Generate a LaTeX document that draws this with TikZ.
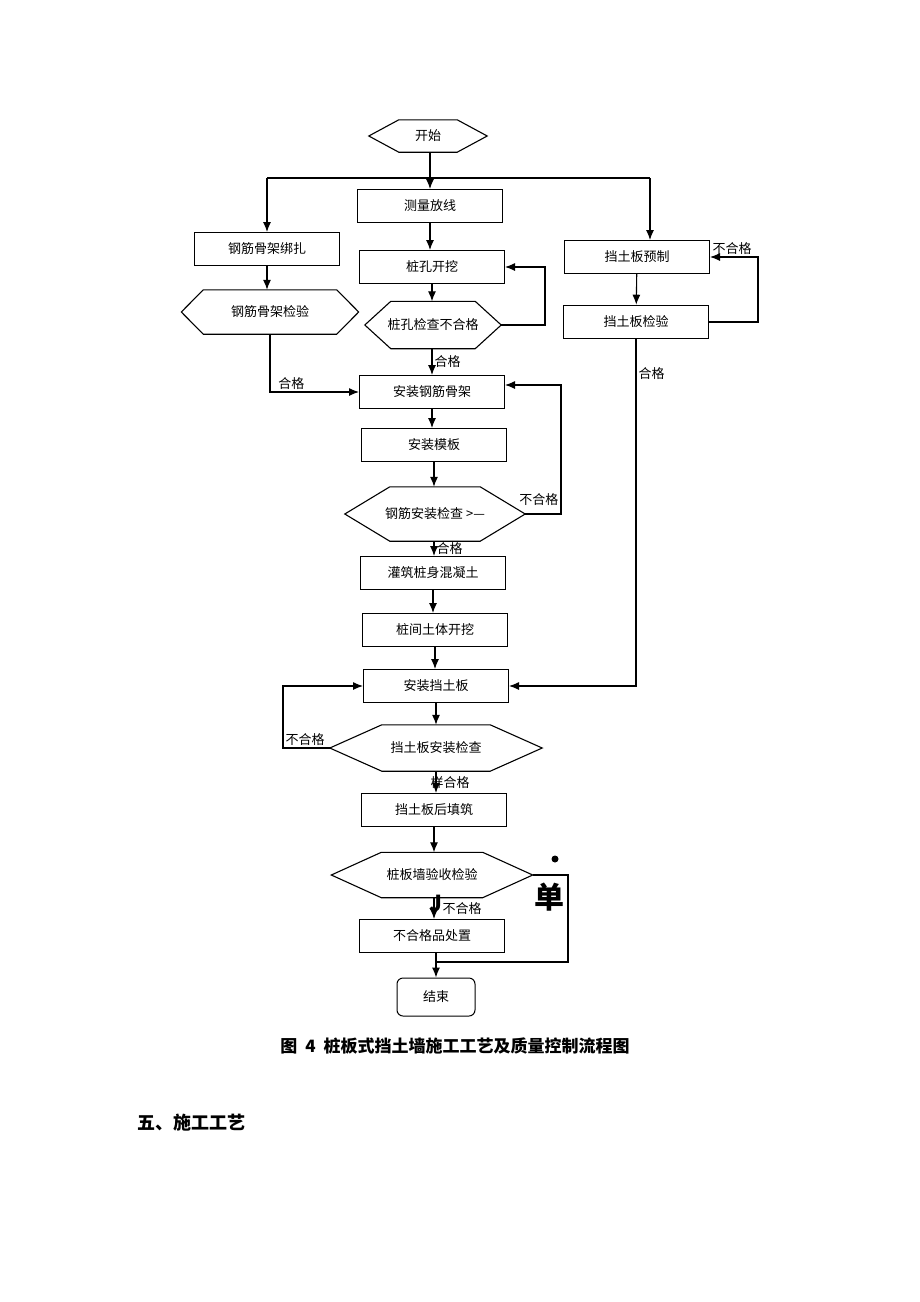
\documentclass[tikz,border=0pt]{standalone}
\usepackage{fontspec}
\setmainfont{Noto Sans CJK SC}
\usepackage{tikz}
\usetikzlibrary{positioning}
\usetikzlibrary{arrows,arrows.meta,shapes}
\usetikzlibrary{calc}
\tikzstyle{procbox}=[rectangle,draw,line width=1pt,minimum width=145pt,minimum height=33pt,inner sep=0pt,font=\fontsize{13}{15}\selectfont]
\tikzstyle{checkbox}=[rectangle,inner sep=0pt,font=\fontsize{13}{15}\selectfont]
\tikzstyle{flowlabel}=[font=\fontsize{13}{15}\selectfont,inner sep=2pt]
\tikzstyle{flow}=[-{Latex[length=10pt,width=8pt]},line width=1.1pt]
\tikzstyle{plain}=[line width=1.1pt]

\begin{document}
\begin{tikzpicture}[x=1pt,y=-1pt]
\useasboundingbox[fill=white] (0,0) rectangle (920,1302);

    \foreach \pos/\name/\txt in {{(430,206)/survey/测量放线}, {(432,267)/dig/桩孔开挖}, {(432,392)/cage/安装钢筋骨架}, {(434,445)/form/安装模板}, {(433,573)/pour/灌筑桩身混凝土}, {(435,630)/soil/桩间土体开挖}, {(436,686)/board/安装挡土板}, {(434,810)/fill/挡土板后填筑}, {(432,936)/reject/不合格品处置}, {(267,249)/tie/钢筋骨架绑扎}, {(637,257)/pre/挡土板预制}}
        \node[procbox] (\name) at \pos {\txt};
    \node[procbox,line width=1.6pt] (insp) at (636,322) {挡土板检验};

    \foreach \pos/\name/\bw/\bh/\dep/\txt in {{(428,136)/start/118/32/30/开始}, {(270,312)/cagechk/177/44/22/钢筋骨架检验}, {(433,325)/holechk/136/47/26/桩孔检查不合格}, {(435,514)/steelchk/180/54/45/钢筋安装检查 >—}, {(436,748)/boardchk/212/46/52/挡土板安装检查}, {(432,875)/finalchk/201/45/50/桩板墙验收检验}}
    {
        \node[checkbox,minimum width=\bw pt,minimum height=\bh pt] (\name) at \pos {\txt};
        \draw[plain] (\name.west) -- ([xshift=\dep pt]\name.north west) -- ([xshift=-\dep pt]\name.north east) -- (\name.east) -- ([xshift=-\dep pt]\name.south east) -- ([xshift=\dep pt]\name.south west) -- cycle;
    }

    \node[rectangle,rounded corners=6pt,draw,line width=1pt,minimum width=78pt,minimum height=38pt,font=\fontsize{13}{15}\selectfont] (end) at (436,997) {结束};

%split at the top
  \coordinate (splitL) at (267,178);
  \coordinate (splitR) at (650,178);
  \draw[flow] (survey.north |- start.south) -- (survey);
  \draw[plain] (splitL) -- (splitR);
  \draw[flow] (splitL) -- (tie);
  \draw[flow] (splitR) -- (splitR |- pre.north);

%middle column, kept straight down
  \coordinate (holeR) at (545,267);
  \coordinate (steelR) at (561,385);
  \coordinate (boardL) at (283,686);
  \coordinate (finR) at (568,962);
  \draw[flow] (survey.south) -- (survey.south |- dig.north);
  \draw[flow] (dig.south) -- (dig.south |- holechk.north);
  \draw[flow] (dig.south |- holechk.south) -- node[flowlabel,right]{合格} (dig.south |- cage.north);
  \draw[flow] (holechk.east) -| (holeR) -- (dig.east);
  \draw[flow] (cage.south) -- (cage.south |- form.north);
  \draw[flow] (form.south) -- (form.south |- steelchk.north);
  \draw[flow] (form.south |- steelchk.south) -- node[flowlabel,right]{合格} (form.south |- pour.north);
  \draw[flow] (steelchk.east) -| node[flowlabel,above left,yshift=6pt]{不合格} (steelR) -- (steelR -| cage.east);
  \draw[flow] (pour.south) -- (pour.south |- soil.north);
  \draw[flow] (soil.south) -- (soil.south |- board.north);
  \draw[flow] (board.south) -- (board.south |- boardchk.north);
  \draw[flow] (boardchk.west) -| node[flowlabel,above right]{不合格} (boardL) -- (board.west);
  \draw[flow] (board.south |- boardchk.south) -- node[flowlabel,right,xshift=-8pt]{样合格} (board.south |- fill.north);
  \draw[flow] (fill.south) -- (fill.south |- finalchk.north);
  \draw[flow] (fill.south |- finalchk.south) -- node[flowlabel,right,xshift=6pt]{不合格} (fill.south |- reject.north);
  \draw[flow] (end.north |- reject.south) -- (end);
  \draw[plain] (finalchk.east) -| (finR) -- (finR -| end.north);

%left column
  \draw[flow] (tie.south) -- (tie.south |- cagechk.north);
  \draw[flow] (cagechk.south) |- node[flowlabel,pos=0.62,above]{合格} (cage.west);

%right column
  \draw[flow] (pre) -- (insp);
  \draw[flow] (insp.east) -| (pre.east -| 758,0) -- (pre.east) node[flowlabel,above right]{不合格};
  \draw[flow] (insp.south) |- node[flowlabel,pos=0.05,right]{合格} (board.east);

  \node[font=\fontsize{22}{22}\selectfont\bfseries] (jmark) at (436,903) {J};
  \node[circle,fill=black,inner sep=0pt,minimum size=7pt] (dot) at (555,859) {};
  \node[font=\fontsize{30}{30}\selectfont\bfseries] (dan) at (549,897) {单};

  \node[font=\fontsize{17}{19}\selectfont\bfseries] (caption) at (455,1046) {图\hspace{8pt}4\hspace{8pt}桩板式挡土墙施工工艺及质量控制流程图};
  \node[font=\fontsize{18}{20}\selectfont\bfseries,anchor=west,inner sep=0pt] (sect) at (137,1123) {五、施工工艺};

\end{tikzpicture}
\end{document}
